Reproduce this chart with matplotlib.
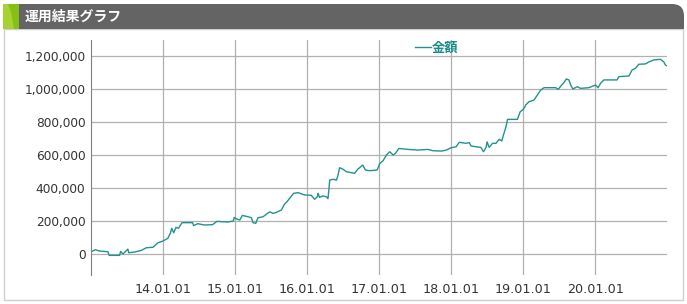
import matplotlib
matplotlib.use("Agg")
import matplotlib.pyplot as plt
import matplotlib.dates as mdates
from matplotlib.patches import Rectangle, FancyBboxPatch, Polygon
from matplotlib.ticker import FuncFormatter
import pandas as pd

plt.rcParams['font.family'] = ['Noto Sans CJK JP', 'DejaVu Sans']

title = "運用結果グラフ"
series_name = "金額"

dates = [
    "2013-01-02", "2013-01-23", "2013-02-14", "2013-03-28", "2013-04-03", "2013-05-26",
    "2013-05-31", "2013-06-12", "2013-07-07", "2013-07-11", "2013-08-10", "2013-09-13",
    "2013-10-08", "2013-11-11", "2013-12-06",
    "2014-01-01", "2014-01-25", "2014-02-07", "2014-02-14", "2014-02-24", "2014-03-08",
    "2014-03-20", "2014-04-07", "2014-05-31", "2014-06-05", "2014-06-26", "2014-07-29",
    "2014-09-09", "2014-10-01", "2014-11-24", "2014-12-23", "2014-12-28",
    "2015-01-10", "2015-01-25", "2015-02-07", "2015-03-08", "2015-03-25", "2015-04-02",
    "2015-04-16", "2015-04-27", "2015-05-23", "2015-06-09", "2015-06-26", "2015-07-12",
    "2015-07-29", "2015-08-24", "2015-09-09", "2015-09-21", "2015-10-05", "2015-10-25",
    "2015-11-16", "2015-12-20",
    "2016-01-22", "2016-02-08", "2016-02-22", "2016-02-25", "2016-03-04", "2016-03-21",
    "2016-04-08", "2016-04-16", "2016-04-25", "2016-05-12", "2016-05-29", "2016-06-06",
    "2016-06-14", "2016-07-01", "2016-07-18", "2016-08-29", "2016-09-14", "2016-10-09",
    "2016-10-23", "2016-11-12", "2016-12-21",
    "2017-01-04", "2017-01-20", "2017-02-06", "2017-02-23", "2017-03-12", "2017-03-24",
    "2017-04-10", "2017-05-27", "2017-07-16", "2017-09-05", "2017-09-30", "2017-11-12",
    "2017-12-07", "2017-12-30",
    "2018-01-25", "2018-02-10", "2018-03-16", "2018-04-02", "2018-04-11", "2018-05-06",
    "2018-05-31", "2018-06-13", "2018-06-26", "2018-07-01", "2018-07-12", "2018-07-29",
    "2018-08-15", "2018-09-01", "2018-09-14", "2018-09-22", "2018-10-05", "2018-10-13",
    "2018-12-02", "2018-12-16", "2018-12-28",
    "2019-01-04", "2019-01-13", "2019-01-21", "2019-01-30", "2019-02-24", "2019-03-13",
    "2019-03-30", "2019-04-16", "2019-06-14", "2019-06-27", "2019-07-14", "2019-07-26",
    "2019-08-07", "2019-08-20", "2019-08-29", "2019-09-09", "2019-10-01", "2019-10-18",
    "2019-11-29", "2019-12-25",
    "2020-01-02", "2020-01-15", "2020-01-27", "2020-02-13", "2020-04-20", "2020-04-29",
    "2020-06-19", "2020-07-05", "2020-07-22", "2020-08-08", "2020-09-11", "2020-09-28",
    "2020-10-23", "2020-11-26", "2020-12-13", "2020-12-21", "2020-12-28",
]

amounts = [
    14000, 26000, 18000, 14000, -8000, -8000,
    16000, 0, 30000, 8000, 12000, 22000,
    38000, 41000, 68000,
    79000, 95000, 125000, 156000, 129000, 162000,
    156000, 190000, 190000, 172000, 184000, 176000,
    178000, 198000, 194000, 200000, 222000,
    212000, 206000, 234000, 226000, 220000, 190000,
    186000, 220000, 226000, 242000, 256000, 246000,
    252000, 267000, 303000, 317000, 338000, 368000,
    372000, 358000,
    356000, 332000, 347000, 368000, 344000, 352000,
    347000, 336000, 448000, 453000, 448000, 479000,
    523000, 514000, 499000, 489000, 514000, 539000,
    509000, 505000, 509000,
    550000, 565000, 600000, 620000, 600000, 610000,
    640000, 634000, 630000, 634000, 626000, 624000,
    630000, 644000,
    650000, 677000, 671000, 675000, 655000, 650000,
    646000, 620000, 646000, 680000, 646000, 671000,
    671000, 695000, 685000, 721000, 771000, 816000,
    816000, 862000, 873000,
    882000, 903000, 913000, 923000, 933000, 964000,
    994000, 1008000, 1008000, 998000, 1024000, 1040000,
    1061000, 1055000, 1024000, 1000000, 1014000, 1004000,
    1008000, 1020000,
    1024000, 1008000, 1034000, 1055000, 1055000, 1075000,
    1079000, 1115000, 1125000, 1150000, 1152000, 1164000,
    1176000, 1180000, 1164000, 1145000, 1141000,
]

year_ticks = ["2014-01-01", "2015-01-01", "2016-01-01", "2017-01-01",
              "2018-01-01", "2019-01-01", "2020-01-01"]
y_ticks = [0, 200000, 400000, 600000, 800000, 1000000, 1200000]

W, H = 687, 304
fig = plt.figure(figsize=(W / 100, H / 100), dpi=100)
fig.patch.set_facecolor("white")

# background layer in pixel coordinates
bg = fig.add_axes([0, 0, 1, 1], zorder=0)
bg.set_xlim(0, W)
bg.set_ylim(H, 0)
bg.axis("off")

bg.add_patch(Rectangle((4, 29), 679, 271, facecolor="white", edgecolor="#cfcfcf", lw=1))
# header bar, rounded at the top right only
bg.add_patch(Rectangle((4, 4), 668, 25, facecolor="#646464", edgecolor="none"))
bg.add_patch(FancyBboxPatch((660, 4), 24, 25, boxstyle="round,pad=0,rounding_size=12",
                            facecolor="#646464", edgecolor="none"))
bg.add_patch(Rectangle((660, 16), 24, 13, facecolor="#646464", edgecolor="none"))
bg.add_patch(Rectangle((3, 4), 16, 25, facecolor="#86c016", edgecolor="none"))
bg.add_patch(Polygon([(3, 4), (8, 4), (11, 12), (14, 29), (3, 29)], closed=True,
                     facecolor="#a6d232", edgecolor="none"))
bg.text(25, 16.5, title, color="white", fontsize=10, fontweight="bold",
        va="center", ha="left")

# main chart
x = pd.to_datetime(dates)
ax = fig.add_axes([91 / W, (H - 275) / H, 576 / W, 235 / H], zorder=1)
ax.patch.set_alpha(0)
line_color = "#23928c"
ax.plot(x, amounts, color=line_color, lw=1.0, label=series_name)

ax.set_xlim(pd.Timestamp("2013-01-01"), pd.Timestamp("2020-12-29"))
ax.set_ylim(-127000, 1297000)
ax.set_xticks(pd.to_datetime(year_ticks))
ax.xaxis.set_major_formatter(mdates.DateFormatter("%y.%m.%d"))
ax.set_yticks(y_ticks)
ax.yaxis.set_major_formatter(FuncFormatter(lambda v, p: f"{int(v):,}"))
ax.grid(True, color="#b0b0b0", lw=0.9)
ax.set_axisbelow(True)
for s in ["top", "right", "bottom"]:
    ax.spines[s].set_visible(False)
ax.spines["left"].set_color("#808080")
ax.tick_params(axis="y", length=0, labelsize=8.7, labelcolor="#333333", pad=4)
ax.tick_params(axis="x", length=0, labelsize=9.2, labelcolor="#333333", pad=6)
for lab in ax.get_xticklabels() + ax.get_yticklabels():
    lab.set_family(["DejaVu Sans"])

leg = ax.legend(loc="upper center", bbox_to_anchor=(0.6, 1.03), frameon=False,
                handlelength=1.2, handletextpad=0.1, borderpad=0.1,
                prop={"size": 9.5, "weight": "bold"})
for t in leg.get_texts():
    t.set_color("#1a8a88")

fig.savefig("out.png", dpi=100)
